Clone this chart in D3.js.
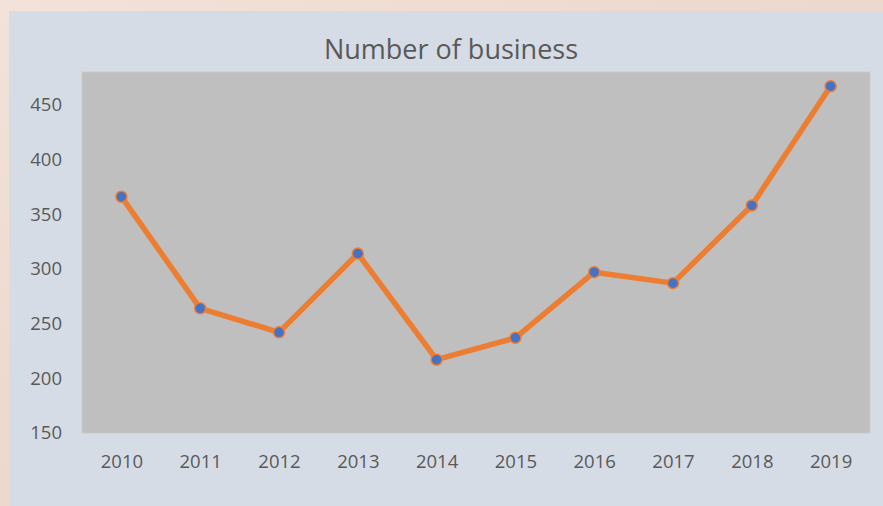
<!DOCTYPE html>
<html>
<head>
<meta charset="utf-8">
<script src="https://cdn.jsdelivr.net/npm/d3@7"></script>
<style>
  html, body { margin: 0; padding: 0; }
  body { width: 883px; height: 506px; overflow: hidden; background: #efdfd5; }
  svg { display: block; }
</style>
</head>
<body>
<svg id="chart"></svg>
<script>
const years = ["2010", "2011", "2012", "2013", "2014", "2015", "2016", "2017", "2018", "2019"];
const businesses = [366, 264, 242, 314, 217, 237, 297, 287, 358, 467];
const yTicks = [150, 200, 250, 300, 350, 400, 450];
const yDomain = [150, 480];
const title = "Number of business";

const W = 883, H = 506;
const panel = { x: 9, y: 11, w: W - 9, h: H - 11 };
const plot = { left: 82, top: 72, right: 870, bottom: 433 };

const svg = d3.select("#chart").attr("width", W).attr("height", H);

// backdrop behind the chart panel
const defs = svg.append("defs");
const grad = defs.append("linearGradient").attr("id", "bg").attr("x1", 0).attr("x2", 1).attr("y1", 0).attr("y2", 1);
grad.append("stop").attr("offset", "0%").attr("stop-color", "#f2e2d9");
grad.append("stop").attr("offset", "50%").attr("stop-color", "#ecd8cc");
grad.append("stop").attr("offset", "100%").attr("stop-color", "#f1e4d8");
svg.append("rect").attr("width", W).attr("height", H).attr("fill", "url(#bg)");

svg.append("rect")
  .attr("x", panel.x).attr("y", panel.y)
  .attr("width", panel.w).attr("height", panel.h)
  .attr("fill", "#d6dce5");

svg.append("rect")
  .attr("x", plot.left).attr("y", plot.top)
  .attr("width", plot.right - plot.left).attr("height", plot.bottom - plot.top)
  .attr("fill", "#bfbfbf")
  .attr("stroke", "#c9c9c9").attr("stroke-width", 1);

const x = d3.scalePoint().domain(years).range([plot.left, plot.right]).padding(0.5);
const y = d3.scaleLinear().domain(yDomain).range([plot.bottom, plot.top]);

const font = "'Open Sans', sans-serif";

// title
svg.append("text")
  .attr("x", 451).attr("y", 59)
  .attr("text-anchor", "middle")
  .attr("font-family", font).attr("font-size", 27)
  .attr("fill", "#595959")
  .text(title);

// y axis
const yAxis = svg.append("g")
  .attr("transform", `translate(${plot.left},0)`)
  .call(d3.axisLeft(y).tickValues(yTicks).tickSize(0).tickPadding(20));
yAxis.select(".domain").remove();
yAxis.selectAll("text")
  .attr("font-family", font).attr("font-size", 18.5)
  .attr("fill", "#595959");

// x axis
const xAxis = svg.append("g")
  .attr("transform", `translate(0,${plot.bottom})`)
  .call(d3.axisBottom(x).tickSize(0).tickPadding(22));
xAxis.select(".domain").remove();
xAxis.selectAll("text")
  .attr("font-family", font).attr("font-size", 18.5)
  .attr("fill", "#595959");

// line
const line = d3.line()
  .x((d, i) => x(years[i]))
  .y((d) => y(d));

svg.append("path")
  .datum(businesses)
  .attr("d", line)
  .attr("fill", "none")
  .attr("stroke", "#ed7d31")
  .attr("stroke-width", 5.5)
  .attr("stroke-linejoin", "round")
  .attr("stroke-linecap", "round");

svg.selectAll("circle.pt")
  .data(businesses)
  .enter()
  .append("circle")
  .attr("class", "pt")
  .attr("cx", (d, i) => x(years[i]))
  .attr("cy", (d) => y(d))
  .attr("r", 5.5)
  .attr("fill", "#4472c4")
  .attr("stroke", "#ed7d31")
  .attr("stroke-width", 1.5);
</script>
</body>
</html>
